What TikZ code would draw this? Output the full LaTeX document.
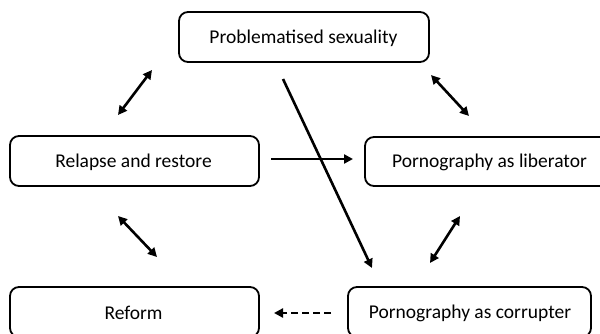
\documentclass[tikz,border=0pt]{standalone}
\usepackage{fontspec}
\setmainfont{Carlito}
\usetikzlibrary{arrows.meta}
\begin{document}
\begin{tikzpicture}[x=1pt,y=-1pt,
  box/.style={draw,line width=1.8pt,rounded corners=9pt,inner sep=0pt},
  lbl/.style={font=\fontsize{19.5}{21}\selectfont},
  arr/.style={line width=2.6pt,-{Triangle[length=9pt,width=9pt]}},
  darr/.style={line width=2.6pt,{Triangle[length=9pt,width=9pt]}-{Triangle[length=9pt,width=9pt]}}]
\useasboundingbox (0,0) rectangle (600,333);
\fill[white] (0,0) rectangle (600,333);
% boxes
\node[box,minimum width=250pt,minimum height=50pt] (ps) at (304,37) {};
\node[lbl] (pst) at (303.5,38) {Problematised sexuality};
\node[box,minimum width=249pt,minimum height=50pt] (rr) at (134.5,161) {};
\node[lbl] (rrt) at (133.5,162) {Relapse and restore};
\node[box,minimum width=249pt,minimum height=49pt] (pl) at (489.5,161.5) {};
\node[lbl] (plt) at (489.5,162) {Pornography as liberator};
\node[box,minimum width=249pt,minimum height=50pt] (rf) at (134.5,312) {};
\node[lbl] (rft) at (133.5,313) {Reform};
\node[box,minimum width=243pt,minimum height=50pt] (pc) at (469.5,312) {};
\node[lbl] (pct) at (470,313) {Pornography as corrupter};
% arrow end points
\coordinate (a1) at (118,115); \coordinate (a2) at (152,70);
\coordinate (b1) at (431,75);  \coordinate (b2) at (469,116);
\coordinate (c1) at (118,216); \coordinate (c2) at (157,257);
\coordinate (d1) at (460,216); \coordinate (d2) at (430,263);
\coordinate (e1) at (283,79);  \coordinate (e2) at (372,268);
\coordinate (f1) at (271,159); \coordinate (f2) at (353,159);
\coordinate (g1) at (331,313); \coordinate (g2) at (274,313);
% connectors
\draw[darr] (a1) -- (a2);
\draw[darr] (b1) -- (b2);
\draw[darr] (c1) -- (c2);
\draw[darr] (d1) -- (d2);
\draw[arr] (e1) -- (e2);
\draw[arr] (f1) -- (f2);
\draw[arr,dash pattern=on 7pt off 4pt] (g1) -- (g2);
\end{tikzpicture}
\end{document}
